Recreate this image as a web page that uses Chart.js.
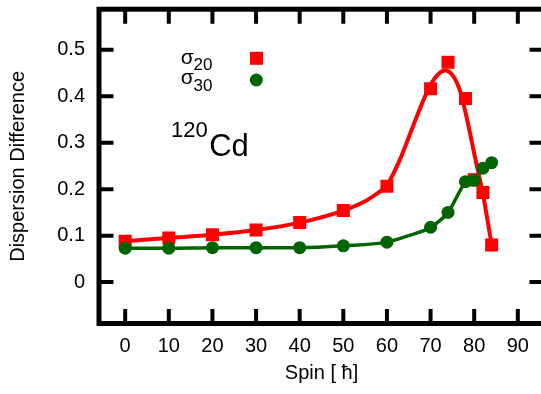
<!DOCTYPE html>
<html>
<head>
<meta charset="utf-8">
<title>120Cd dispersion difference</title>
<script src="https://cdn.jsdelivr.net/npm/chart.js@4.4.1/dist/chart.umd.min.js"></script>
<style>
html, body { margin: 0; padding: 0; background: #fff; overflow: hidden; }
#wrap { width: 560px; height: 394px; }
</style>
</head>
<body>
<div id="wrap"><canvas id="dispersionChart" width="560" height="394"></canvas></div>
<script>
// measured points
const spin20 = [0, 10, 20, 30, 40, 50, 60, 70, 74, 78, 80, 82, 84];
const sigma20 = [0.088, 0.095, 0.102, 0.112, 0.128, 0.154, 0.206, 0.416, 0.473, 0.395, 0.220, 0.193, 0.080];
const spin30 = [0, 10, 20, 30, 40, 50, 60, 70, 74, 78, 80, 82, 84];
const sigma30 = [0.073, 0.073, 0.074, 0.074, 0.074, 0.078, 0.086, 0.118, 0.150, 0.216, 0.219, 0.245, 0.257];

// smooth fit curves
const fit20Spin = [0, 10, 20, 30, 40, 50, 55, 57.5, 60, 61.5, 63, 66, 69, 71, 73.3, 75.2, 76.8, 78.3, 80.2, 82, 84];
const fit20 = [0.088, 0.095, 0.102, 0.112, 0.128, 0.154, 0.174, 0.189, 0.208, 0.234, 0.264, 0.336, 0.405, 0.439, 0.455, 0.443, 0.410, 0.353, 0.268, 0.190, 0.080];
const fit30Spin = [0, 10, 20, 30, 40, 50, 60, 65, 70, 74, 78, 80, 82, 84];
const fit30 = [0.073, 0.073, 0.074, 0.074, 0.074, 0.078, 0.086, 0.100, 0.118, 0.150, 0.214, 0.222, 0.245, 0.257];

// axis ticks
const spinTicks = [0, 10, 20, 30, 40, 50, 60, 70, 80, 90];
const diffTicks = [0, 0.1, 0.2, 0.3, 0.4, 0.5];

const RED = '#ff0000';
const GREEN = '#006400';
const FONT = '"Liberation Sans", Arial, Helvetica, sans-serif';

Chart.defaults.font.family = FONT;
Chart.defaults.color = '#000';

function toPoints(xs, ys) {
    return xs.map((x, i) => ({ x: x, y: ys[i] }));
}

// thick box with inward tick marks on all four sides
const framePlugin = {
    id: 'frame',
    afterDraw(chart) {
        const { ctx, chartArea: a, scales } = chart;
        const tickLen = 14.5;
        ctx.save();
        ctx.strokeStyle = '#000';
        ctx.lineWidth = 4;
        ctx.beginPath();
        spinTicks.forEach(v => {
            const px = scales.x.getPixelForValue(v);
            ctx.moveTo(px, a.bottom);
            ctx.lineTo(px, a.bottom - tickLen);
            ctx.moveTo(px, a.top);
            ctx.lineTo(px, a.top + tickLen);
        });
        diffTicks.forEach(v => {
            const py = scales.y.getPixelForValue(v);
            ctx.moveTo(a.left, py);
            ctx.lineTo(a.left + tickLen, py);
            ctx.moveTo(a.right, py);
            ctx.lineTo(a.right - tickLen, py);
        });
        ctx.stroke();
        ctx.lineWidth = 5;
        ctx.strokeRect(a.left, a.top, a.right - a.left, a.bottom - a.top);
        ctx.restore();
    }
};

// key with subscripted sigma labels and the nucleus label
const keyPlugin = {
    id: 'key',
    afterDraw(chart) {
        const { ctx } = chart;
        ctx.save();
        ctx.fillStyle = '#000';
        ctx.textBaseline = 'alphabetic';
        ctx.textAlign = 'left';

        const rows = [
            { sub: '20', y: 63.5, color: RED, shape: 'rect', my: 58.3 },
            { sub: '30', y: 84, color: GREEN, shape: 'circle', my: 80 }
        ];
        rows.forEach(r => {
            ctx.font = '17px ' + FONT;
            const subW = ctx.measureText(r.sub).width;
            ctx.font = '21px ' + FONT;
            const sigW = ctx.measureText('σ').width;
            const right = 212.5;
            ctx.fillStyle = '#000';
            ctx.font = '21px ' + FONT;
            ctx.fillText('σ', right - subW - sigW, r.y);
            ctx.font = '17px ' + FONT;
            ctx.fillText(r.sub, right - subW, r.y + 6.5);

            ctx.fillStyle = r.color;
            if (r.shape === 'rect') {
                ctx.fillRect(256.5 - 6.5, r.my - 6.5, 13, 13);
            } else {
                ctx.beginPath();
                ctx.arc(256.3, r.my, 6.5, 0, Math.PI * 2);
                ctx.fill();
            }
        });

        ctx.fillStyle = '#000';
        ctx.font = '22px ' + FONT;
        ctx.fillText('120', 171, 137);
        const w = ctx.measureText('120').width;
        ctx.font = '31px ' + FONT;
        ctx.fillText('Cd', 171 + w + 1.5, 155.5);
        ctx.restore();
    }
};

new Chart(document.getElementById('dispersionChart'), {
    type: 'scatter',
    data: {
        datasets: [
            {
                label: 'σ20 fit',
                data: toPoints(fit20Spin, fit20),
                showLine: true,
                borderColor: RED,
                borderWidth: 4,
                pointRadius: 0,
                cubicInterpolationMode: 'monotone',
                order: 4
            },
            {
                label: 'σ30 fit',
                data: toPoints(fit30Spin, fit30),
                showLine: true,
                borderColor: GREEN,
                borderWidth: 3.5,
                pointRadius: 0,
                cubicInterpolationMode: 'monotone',
                order: 3
            },
            {
                label: 'σ20',
                data: toPoints(spin20, sigma20),
                pointStyle: 'rect',
                pointRadius: 9.2,
                pointBorderWidth: 0,
                backgroundColor: RED,
                borderColor: RED,
                order: 2
            },
            {
                label: 'σ30',
                data: toPoints(spin30, sigma30),
                pointStyle: 'circle',
                pointRadius: 6.5,
                pointBorderWidth: 0,
                backgroundColor: GREEN,
                borderColor: GREEN,
                order: 1
            }
        ]
    },
    options: {
        responsive: false,
        animation: false,
        layout: { padding: { left: 0, right: 16, top: 7, bottom: 0 } },
        plugins: {
            legend: { display: false },
            tooltip: { enabled: false }
        },
        scales: {
            x: {
                type: 'linear',
                min: -6,
                max: 96,
                afterBuildTicks: s => { s.ticks = spinTicks.map(v => ({ value: v })); },
                afterFit: s => {
                    s.height = 70.5;
                    s.paddingLeft = 0;
                    s.paddingRight = 0;
                },
                grid: { display: false, drawTicks: false },
                border: { display: false },
                ticks: {
                    autoSkip: false,
                    maxRotation: 0,
                    padding: 11,
                    font: { size: 20 },
                    color: '#000',
                    callback: v => String(v)
                },
                title: {
                    display: true,
                    text: 'Spin [ ħ]',
                    font: { size: 20 },
                    color: '#000',
                    padding: { top: 0, bottom: 9 }
                }
            },
            y: {
                type: 'linear',
                min: -0.089,
                max: 0.587,
                afterBuildTicks: s => { s.ticks = diffTicks.map(v => ({ value: v })); },
                afterFit: s => {
                    s.width = 99;
                    s.paddingTop = 0;
                    s.paddingBottom = 0;
                },
                grid: { display: false, drawTicks: false },
                border: { display: false },
                ticks: {
                    autoSkip: false,
                    padding: 14,
                    font: { size: 20 },
                    color: '#000',
                    callback: v => (v === 0 ? '0' : v.toFixed(1))
                },
                title: {
                    display: true,
                    text: 'Dispersion Difference',
                    font: { size: 20 },
                    color: '#000',
                    padding: { top: 6, bottom: 0 }
                }
            }
        }
    },
    plugins: [framePlugin, keyPlugin]
});
</script>
</body>
</html>
